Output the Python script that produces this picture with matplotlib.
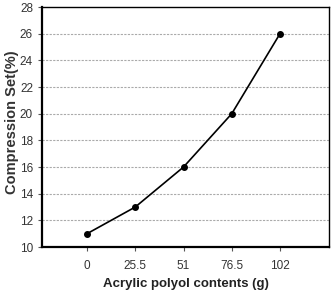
import matplotlib.pyplot as plt

plt.rcParams['font.family'] = ['Liberation Sans', 'DejaVu Sans']

contents = [0, 25.5, 51, 76.5, 102]
tick_labels = ["0", "25.5", "51", "76.5", "102"]
compression_set = [11, 13, 16, 20, 26]

fig = plt.figure(figsize=(3.32, 2.92), dpi=100)
ax = fig.add_axes([0.1265, 0.154, 0.8645, 0.822])

ax.plot(contents, compression_set, color="black", linewidth=1.2,
        marker="o", markersize=4, zorder=3)

ax.set_xlim(-23.8, 127.9)
ax.set_ylim(10, 28)
ax.set_xticks(contents)
ax.set_xticklabels(tick_labels)
ax.set_yticks(range(10, 29, 2))
ax.tick_params(labelsize=8.5, length=3, width=0.8, color="#555555", labelcolor="#333333")
ax.tick_params(axis="x", pad=6)

for y in range(12, 28, 2):
    ax.axhline(y, color="#aaaaaa", linestyle=(0, (2, 1.2)), linewidth=0.8, zorder=1)

ax.spines["left"].set_linewidth(1.6)
ax.spines["bottom"].set_linewidth(1.6)
ax.spines["top"].set_linewidth(1.0)
ax.spines["right"].set_linewidth(1.0)

fig.text(0.036, 0.582, "Compression Set(%)", rotation=90, ha="center", va="center",
         fontsize=10.5, fontweight="bold", color="#333333")
fig.text(0.56, 0.026, "Acrylic polyol contents (g)", ha="center", va="center",
         fontsize=9.5, fontweight="bold", color="#222222")

fig.savefig("out.png", dpi=100)
